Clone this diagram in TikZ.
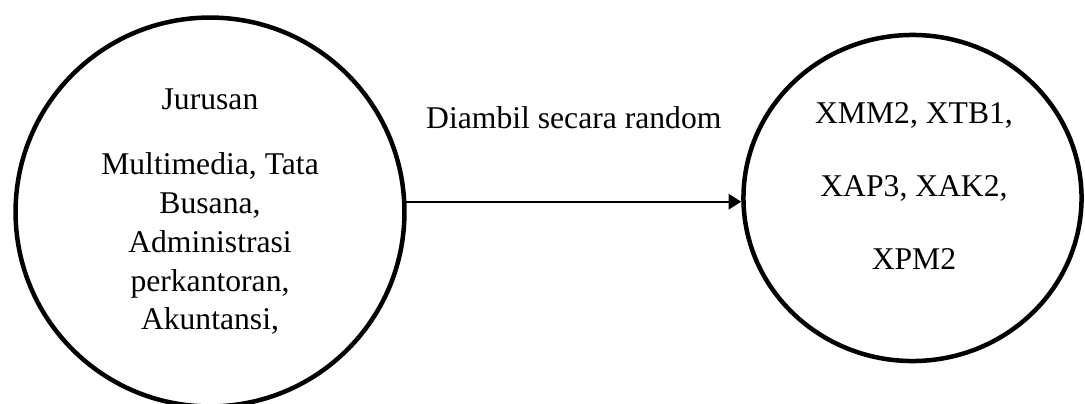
\documentclass[tikz,border=0pt]{standalone}
\usepackage{fontspec}
\setmainfont{Liberation Serif}
\usetikzlibrary{shapes.geometric,arrows.meta}

\begin{document}
\begin{tikzpicture}[x=0.025cm, y=0.025cm,
  bulat/.style={draw, circle, line width=3.2pt, inner sep=0pt, align=center,
                font=\fontsize{22.5}{27.7}\selectfont},
  lonjong/.style={draw, ellipse, line width=3.2pt, inner sep=0pt},
  teks/.style={align=center, font=\fontsize{22.5}{52}\selectfont},
  ar/.style={-{Triangle[length=9pt,width=11pt]}, line width=1.5pt}
]
\useasboundingbox (0,0) rectangle (1085,403);
\node[bulat, minimum size=9.72cm] (kiri) at (210,191)
  {Jurusan\\[18pt] Multimedia, Tata\\ Busana,\\ Administrasi\\ perkantoran,\\ Akuntansi,};
\node[lonjong, minimum width=8.45cm, minimum height=8.15cm] (kanan) at (912.5,205) {};
\node[teks] (isi) at (914,217) {XMM2, XTB1,\\ XAP3, XAK2,\\ XPM2};
\draw[ar] (kiri.3) -- (kiri.3 -| kanan.west)
  node[pos=0.5, above=52pt, anchor=base, font=\fontsize{22.5}{27}\selectfont] (ket) {Diambil secara random};
\end{tikzpicture}
\end{document}
